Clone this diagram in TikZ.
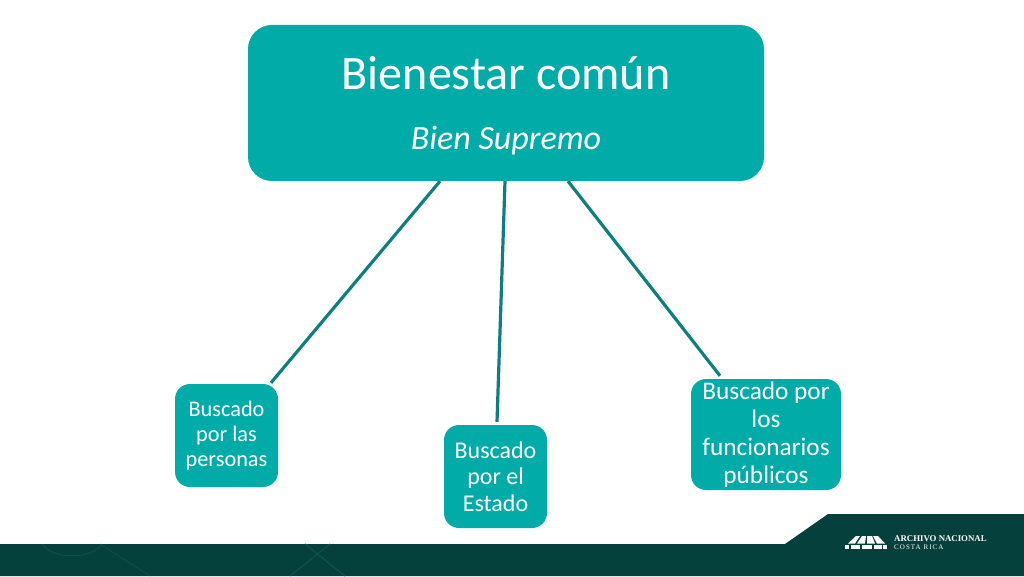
\documentclass[tikz,border=0pt]{standalone}
\usepackage{xcolor}
\usepackage{fontspec}
\setmainfont{Carlito}
\newfontfamily\logofont{Liberation Serif}
\usetikzlibrary{positioning, calc}
\definecolor{tealbox}{rgb}{0.0, 0.67, 0.66}
\definecolor{tealline}{rgb}{0.05, 0.50, 0.49}
\definecolor{darkband}{rgb}{0.02, 0.25, 0.235}
\definecolor{bandglow}{rgb}{0.05, 0.33, 0.30}
\tikzset{
	mainbox/.style={fill=tealbox, rounded corners=24pt, minimum width=516pt, minimum height=156pt, inner sep=0pt},
	smallbox/.style={fill=tealbox, rounded corners=15pt, text=white, align=center, inner sep=0pt},
	conector/.style={draw=tealline, line width=3.2pt},
	logobar/.style={fill=white, draw=none}
}

\begin{document}
\begin{tikzpicture}[x=1pt, y=1pt]
				\useasboundingbox (0,0) rectangle (1024,576);
				% banda inferior
				\fill[darkband] (0,0) -- (0,32) -- (785,32) -- (828,62) -- (1024,62) -- (1024,0) -- cycle;
				\draw[bandglow, line width=0.7pt] (42,32) arc (200:340:32 and 18);
				\draw[bandglow, line width=0.6pt] (100,32) -- (150,0);
				\draw[bandglow, line width=1.2pt] (305,32) -- (345,0);
				\draw[bandglow, line width=1pt] (290,0) -- (330,32);
				
				\node[mainbox] (bienestar) at (506,473) {};
				\node[text=white, font=\fontsize{48}{52}\selectfont] (titulo) at (506,503) {Bienestar común};
				\node[text=white, font=\fontsize{34}{38}\selectfont\itshape] (subtitulo) at (506,435.5) {Bien Supremo};
				
				\node[smallbox, minimum width=103pt, minimum height=103pt, font=\fontsize{22.3}{25}\selectfont] (personas) at (226.5,140.5) {Buscado\\por las\\personas};
				\node[smallbox, minimum width=103pt, minimum height=103pt, font=\fontsize{24}{26.5}\selectfont] (estado) at (495.5,99.5) {Buscado\\por el\\Estado};
				\node[smallbox, minimum width=150pt, minimum height=111pt, font=\fontsize{25.3}{28}\selectfont] (funcionarios) at (766,141.5) {Buscado por\\los\\funcionarios\\públicos};
				
				\draw[conector] ([xshift=-66pt]bienestar.south) -- ([xshift=44.5pt,yshift=1pt]personas.north);
				\draw[conector] ([xshift=-1pt]bienestar.south) -- ([xshift=1.5pt,yshift=3pt]estado.north);
				\draw[conector] ([xshift=62pt]bienestar.south) -- ([xshift=-46pt,yshift=3pt]funcionarios.north);
				
				% logo
				\foreach \xa/\xb in {845/849, 851/860, 862/872, 874/882, 883/887}{
					\fill[logobar] (\xa,27) rectangle (\xb,31);
				}
				\foreach \xa/\xb/\xc/\xd in {848/855/856/860, 857/865/862/866, 867/875/867/872, 877/885/873/878}{
					\fill[logobar] (\xa,32.5) -- (\xb,32.5) -- (\xd,40) -- (\xc,40) -- cycle;
				}
				\node[text=white, anchor=west, inner sep=0pt, font=\logofont\bfseries\fontsize{8.8}{9}\selectfont] (archivo) at (894,37) {ARCHIVO NACIONAL};
				\node[text=white, anchor=west, inner sep=0pt, font=\logofont\addfontfeature{LetterSpace=15}\fontsize{7}{8}\selectfont] (costa) at (894,28.5) {COSTA RICA};
\end{tikzpicture}
\end{document}
